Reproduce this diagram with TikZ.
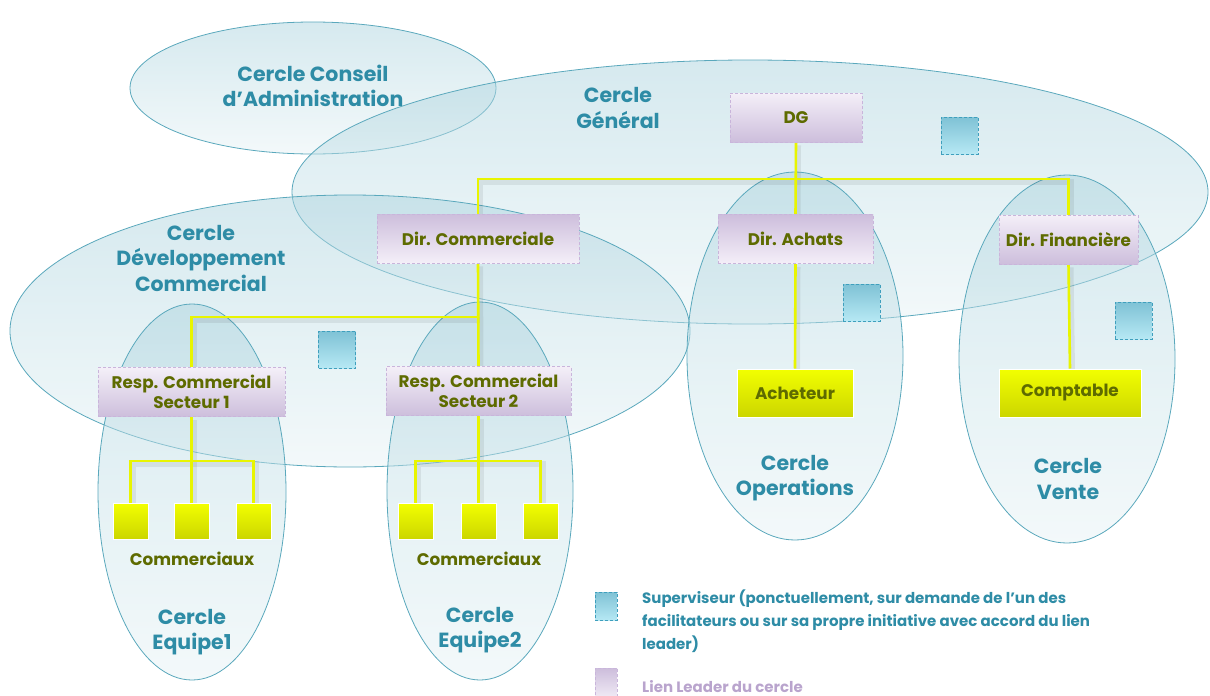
\documentclass[tikz,border=0pt]{standalone}
\usepackage{fontspec}
\setmainfont{Poppins}
\begin{document}
\begin{tikzpicture}[x=1pt,y=-1pt,
  circ/.style={draw=circline, line width=0.8pt, top color=circtop, bottom color=circbot, fill opacity=0.48, draw opacity=1},
  lilac/.style={draw=lilacline, dashed, dash pattern=on 3pt off 2pt, line width=0.9pt, top color=liltop, bottom color=lilbot, minimum width=#1, minimum height=49, inner sep=2pt, align=center, text=olive, font=\fontsize{16.8}{20}\selectfont\bfseries},
  lilacr/.style={lilac=#1, top color=lilbot, bottom color=liltop},
  yel/.style={draw=white, line width=1pt, top color=yeltop, bottom color=yelbot, minimum width=#1, minimum height=48, text=olive, font=\fontsize{16.8}{20}\selectfont\bfseries},
  sq/.style={draw=white, line width=1pt, top color=yeltop, bottom color=yelbot, minimum width=35, minimum height=36, inner sep=0pt},
  sup/.style={draw=supline, dashed, dash pattern=on 3pt off 2pt, line width=0.9pt, top color=suptop, bottom color=supbot, minimum width=37, minimum height=37, inner sep=0pt},
  clabel/.style={text=teal2, align=center, font=\fontsize{20.5}{25.5}\selectfont\bfseries},
  slabel/.style={text=olive, font=\fontsize{16.8}{20}\selectfont\bfseries},
  link/.style={draw=yline, line width=2.6pt},
  shadow/.style={draw=black, opacity=0.07, line width=6pt}
]
\definecolor{circline}{HTML}{5AA8BC}
\definecolor{circtop}{HTML}{A9D2DD}
\definecolor{circbot}{HTML}{E6F2F5}
\definecolor{lilacline}{HTML}{C9B5DB}
\definecolor{liltop}{HTML}{F4EFF8}
\definecolor{lilbot}{HTML}{CDBEDC}
\definecolor{olive}{HTML}{5E6B00}
\definecolor{yeltop}{HTML}{F2FF00}
\definecolor{yelbot}{HTML}{CCD600}
\definecolor{yline}{HTML}{E8F500}
\definecolor{supline}{HTML}{3F9FBD}
\definecolor{suptop}{HTML}{7FC2D5}
\definecolor{supbot}{HTML}{B6E8F4}
\definecolor{teal2}{HTML}{2E8CA6}
\definecolor{lilactext}{HTML}{B9A4CD}

\useasboundingbox (0,0) rectangle (1210,696);

% circles
\path[circ] (313,88) ellipse [x radius=183, y radius=66];
\path[circ] (750,192) ellipse [x radius=458, y radius=132];
\path[circ] (350,331) ellipse [x radius=340, y radius=136];
\path[circ] (192,492) ellipse [x radius=94, y radius=188];
\path[circ] (480,491) ellipse [x radius=93, y radius=189];
\path[circ] (795,356) ellipse [x radius=108, y radius=184];
\path[circ] (1067,359) ellipse [x radius=108, y radius=184];

% nodes
\node[lilac=132] (dg) at (796,117.5) {DG};
\node[lilacr=202] (dc) at (478,238.5) {Dir. Commerciale};
\node[lilacr=155] (da) at (795.5,239) {Dir. Achats};
\node[lilac=139] (df) at (1068.5,239.5) {Dir. Financière};
\node[lilac=187] (r1) at (191.5,392) {Resp. Commercial\\Secteur 1};
\node[lilac=185] (r2) at (478.5,391) {Resp. Commercial\\Secteur 2};
\node[yel=116] (ach) at (795,393) {Acheteur};
\node[yel=142] (cpt) at (1070,393) {Comptable};

\node[sq] (a1) at (130.5,521) {};
\node[sq] (a2) at (191.5,521) {};
\node[sq] (a3) at (253.5,521) {};
\node[sq] (b1) at (415.5,521) {};
\node[sq] (b2) at (478.5,521) {};
\node[sq] (b3) at (540.5,521) {};

\node[sup] (s1) at (959.5,135.5) {};
\node[sup] (s2) at (861.5,302.5) {};
\node[sup] (s3) at (1133.5,320.5) {};
\node[sup] (s4) at (337,349.5) {};

% junctions
\coordinate (jg) at (796,179);
\coordinate (jd) at (478,317);
\coordinate (j1) at (192,461);
\coordinate (j2) at (478.5,461);

% shadows
\begin{scope}[shadow, transform canvas={shift={(2pt,-3pt)}}]
\draw (dg.south) -- (da.north);
\draw (dc.north) |- (jg) -| (df.north);
\draw (da.south) -- (ach.north);
\draw (df.south) -- (cpt.north);
\draw (dc.south) -- (r2.north);
\draw (r1.north) |- (jd);
\draw (r1.south) -- (a2.north);
\draw (a1.north) |- (j1) -| (a3.north);
\draw (r2.south) -- (b2.north);
\draw (b1.north) |- (j2) -| (b3.north);
\end{scope}

% links
\draw[link] (dg.south) -- (da.north);
\draw[link] (dc.north) |- (jg) -| (df.north);
\draw[link] (da.south) -- (ach.north);
\draw[link] (df.south) -- (cpt.north);
\draw[link] (dc.south) -- (r2.north);
\draw[link] (r1.north) |- (jd);
\draw[link] (r1.south) -- (a2.north);
\draw[link] (a1.north) |- (j1) -| (a3.north);
\draw[link] (r2.south) -- (b2.north);
\draw[link] (b1.north) |- (j2) -| (b3.north);

% redraw nodes on top of links
\node[lilac=132] at (dg) {DG};
\node[lilacr=202] at (dc) {Dir. Commerciale};
\node[lilacr=155] at (da) {Dir. Achats};
\node[lilac=139] at (df) {Dir. Financière};
\node[lilac=187] at (r1) {Resp. Commercial\\Secteur 1};
\node[lilac=185] at (r2) {Resp. Commercial\\Secteur 2};
\node[yel=116] at (ach) {Acheteur};
\node[yel=142] at (cpt) {Comptable};
\node[sq] at (a1) {};
\node[sq] at (a2) {};
\node[sq] at (a3) {};
\node[sq] at (b1) {};
\node[sq] at (b2) {};
\node[sq] at (b3) {};

% circle labels
\node[clabel] (lca) at (313,86) {Cercle Conseil\\d’Administration};
\node[clabel] (lcg) at (618,108) {Cercle\\Général};
\node[clabel] (lcd) at (201,258) {Cercle\\Développement\\Commercial};
\node[clabel] (le1) at (192,632) {Cercle\\Equipe1};
\node[clabel] (le2) at (480,630) {Cercle\\Equipe2};
\node[clabel] (lop) at (795,478) {Cercle\\Operations};
\node[clabel] (lve) at (1068,479) {Cercle\\Vente};
\node[slabel] (c1) at (192,559) {Commerciaux};
\node[slabel] (c2) at (479,559) {Commerciaux};

% legend
\node[draw=supline, dashed, dash pattern=on 3pt off 2pt, line width=0.9pt, top color=suptop, bottom color=supbot, minimum width=22, minimum height=28, inner sep=0pt] (lg1) at (606,606) {};
\node[anchor=north west, text=teal2, align=left, font=\fontsize{15}{23}\selectfont\bfseries, inner sep=0pt] (lt1) at (642,590) {Superviseur (ponctuellement, sur demande de l’un des\\facilitateurs ou sur sa propre initiative avec accord du lien\\leader)};
\node[draw=lilacline, dashed, dash pattern=on 3pt off 2pt, line width=0.9pt, top color=lilbot, bottom color=liltop, minimum width=22, minimum height=32, inner sep=0pt, anchor=north] (lg2) at (606,668) {};
\node[anchor=base west, text=lilactext, font=\fontsize{15}{23}\selectfont\bfseries, inner sep=0pt] (lt2) at (642,692) {Lien Leader du cercle};
\end{tikzpicture}
\end{document}
